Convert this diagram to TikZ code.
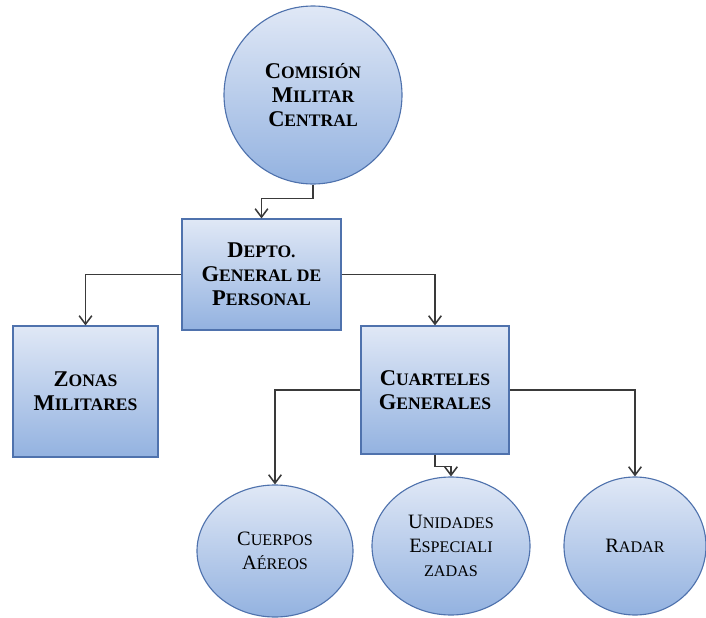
\documentclass[tikz,border=0pt]{standalone}
\usepackage{fontspec}
\setmainfont{Liberation Serif}
\usetikzlibrary{shapes.geometric,arrows.meta}
\definecolor{arriba}{HTML}{E0E8F6}
\definecolor{abajo}{HTML}{93B2E0}
\definecolor{borde}{HTML}{4F72AD}
\definecolor{linea}{HTML}{3A3A3A}
%==versalitas hechas a mano
\newcommand\pc[1]{{\fontsize{12.5}{14}\selectfont #1}}
\newcommand\pq[1]{{\fontsize{11.5}{13}\selectfont #1}}
\begin{document}
\begin{tikzpicture}[x=0.025cm,y=-0.025cm,
		caja/.style={draw=borde,line width=0.8pt,top color=arriba,bottom color=abajo,align=center,inner sep=0pt,
			font=\bfseries\fontsize{16}{17}\selectfont},
		ovalo/.style={ellipse,draw=borde,line width=0.8pt,top color=arriba,bottom color=abajo,align=center,inner sep=0pt,
			font=\fontsize{14.5}{17}\selectfont},
		flecha/.style={draw=linea,line width=1.1pt,-{Straight Barb[length=6pt,width=9pt]}}]
		%==Unidad de medida (px)
		\def\u{0.025cm}
		%==============
		\useasboundingbox (0,0) rectangle (706,618);
		\node[caja,circle,minimum size=178*\u] (cmc) at (313,95) {C\pc{OMISIÓN}\\M\pc{ILITAR}\\C\pc{ENTRAL}};
		\node[caja,minimum width=159*\u,minimum height=111*\u] (depto) at (261.5,274.5) {D\pc{EPTO.}\\G\pc{ENERAL DE}\\P\pc{ERSONAL}};
		\node[caja,minimum width=145*\u,minimum height=131*\u] (zonas) at (85.5,391.5) {Z\pc{ONAS}\\M\pc{ILITARES}};
		\node[caja,minimum width=148*\u,minimum height=128*\u] (cuarteles) at (435,390) {C\pc{UARTELES}\\G\pc{ENERALES}};
		\node[ovalo,minimum width=156*\u,minimum height=132*\u] (cuerpos) at (275,551) {C\pq{UERPOS}\\A\pq{ÉREOS}};
		\node[ovalo,minimum width=158*\u,minimum height=138*\u] (unidades) at (451,546) {U\pq{NIDADES}\\E\pq{SPECIALI}\\\pq{ZADAS}};
		\node[ovalo,minimum width=142*\u,minimum height=138*\u] (radar) at (635,546) {R\pq{ADAR}};
		%==conectores
		\draw[flecha] (cmc.south) -- ++(0,14) -| (depto.north);
		\draw[flecha] (depto.west) -| (zonas.north);
		\draw[flecha] (depto.east) -| (cuarteles.north);
		\draw[flecha] (cuarteles.west) -| (cuerpos.north);
		\draw[flecha] (cuarteles.east) -| (radar.north);
		\draw[flecha] (cuarteles.south) -- ++(0,12) -| (unidades.north);
\end{tikzpicture}
\end{document}
